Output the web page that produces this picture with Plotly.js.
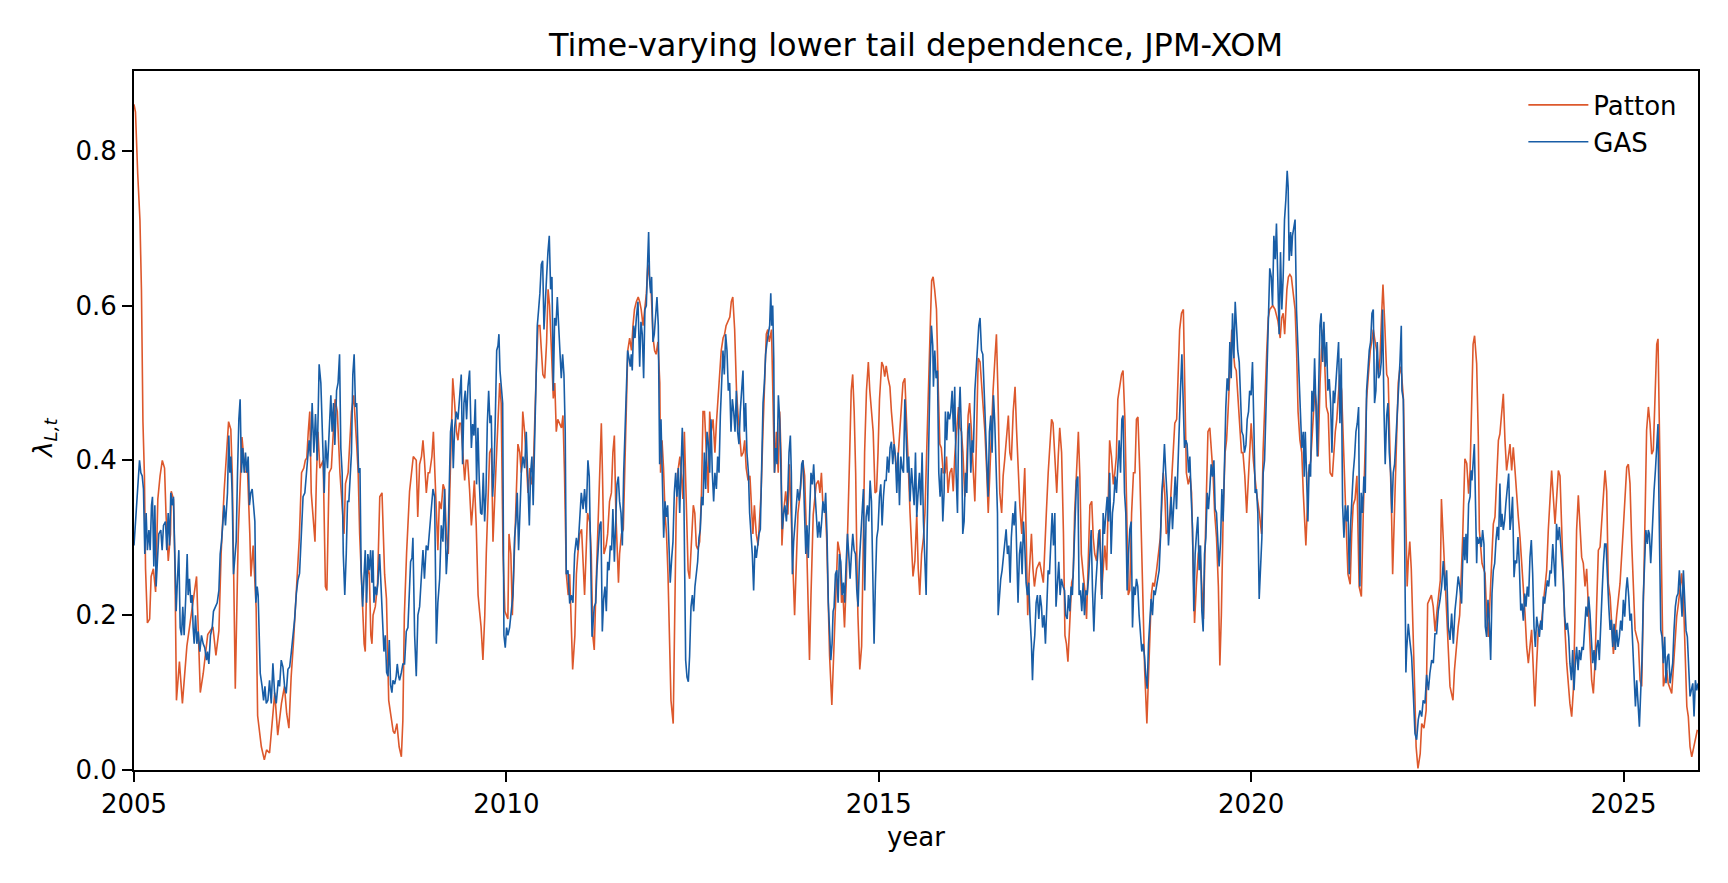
<!DOCTYPE html>
<html>
<head>
<meta charset="utf-8">
<script src="https://cdn.plot.ly/plotly-3.0.1.min.js"></script>
<style>
  html, body { margin: 0; padding: 0; background: #fff; }
  #graf { width: 1728px; height: 883px; }
</style>
</head>
<body>
<div id="graf"></div>
<script>
// values, [decimal year, lambda_L]
let pattonPts = [
[2005.00,0.86],[2005.02,0.85],[2005.05,0.77],[2005.08,0.71],[2005.10,0.62],[2005.12,0.45],[2005.14,0.38],[2005.155,0.26],[2005.18,0.19],[2005.21,0.195],[2005.23,0.25],[2005.26,0.26],[2005.29,0.23],[2005.32,0.35],[2005.35,0.38],[2005.38,0.40],[2005.41,0.39],[2005.43,0.33],[2005.46,0.27],[2005.49,0.305],[2005.50,0.36],[2005.53,0.35],[2005.55,0.26],[2005.57,0.09],[2005.61,0.14],[2005.65,0.086],[2005.71,0.16],[2005.77,0.20],[2005.84,0.25],[2005.89,0.10],[2005.93,0.125],[2005.99,0.175],[2006.06,0.185],[2006.10,0.148],[2006.14,0.18],[2006.17,0.28],[2006.21,0.36],[2006.27,0.45],[2006.30,0.44],[2006.32,0.38],[2006.345,0.23],[2006.36,0.105],[2006.40,0.305],[2006.435,0.405],[2006.45,0.43],[2006.49,0.385],[2006.525,0.385],[2006.555,0.305],[2006.57,0.25],[2006.60,0.29],[2006.64,0.21],[2006.66,0.07],[2006.71,0.03],[2006.75,0.013],[2006.78,0.026],[2006.82,0.022],[2006.86,0.069],[2006.89,0.10],[2006.93,0.045],[2006.98,0.086],[2007.02,0.108],[2007.05,0.073],[2007.08,0.054],[2007.11,0.12],[2007.14,0.163],[2007.18,0.23],[2007.22,0.30],[2007.25,0.384],[2007.28,0.39],[2007.30,0.40],[2007.32,0.403],[2007.34,0.437],[2007.36,0.463],[2007.38,0.358],[2007.40,0.33],[2007.43,0.295],[2007.45,0.38],[2007.47,0.437],[2007.495,0.39],[2007.52,0.395],[2007.54,0.40],[2007.57,0.237],[2007.59,0.232],[2007.62,0.384],[2007.65,0.39],[2007.70,0.479],[2007.73,0.463],[2007.765,0.384],[2007.795,0.332],[2007.82,0.305],[2007.84,0.37],[2007.875,0.384],[2007.92,0.463],[2007.95,0.484],[2007.99,0.42],[2008.01,0.384],[2008.03,0.305],[2008.05,0.253],[2008.09,0.163],[2008.105,0.153],[2008.12,0.226],[2008.14,0.263],[2008.16,0.253],[2008.18,0.174],[2008.195,0.163],[2008.21,0.20],[2008.24,0.211],[2008.27,0.24],[2008.285,0.30],[2008.30,0.353],[2008.33,0.358],[2008.35,0.305],[2008.365,0.253],[2008.39,0.221],[2008.41,0.153],[2008.42,0.09],[2008.45,0.07],[2008.48,0.05],[2008.50,0.047],[2008.53,0.06],[2008.56,0.03],[2008.59,0.017],[2008.61,0.064],[2008.63,0.20],[2008.66,0.28],[2008.70,0.36],[2008.75,0.405],[2008.79,0.40],[2008.81,0.327],[2008.835,0.395],[2008.86,0.405],[2008.88,0.426],[2008.90,0.40],[2008.925,0.358],[2008.95,0.384],[2008.97,0.384],[2009.00,0.405],[2009.02,0.437],[2009.04,0.384],[2009.06,0.337],[2009.08,0.284],[2009.10,0.347],[2009.125,0.337],[2009.15,0.369],[2009.17,0.363],[2009.195,0.305],[2009.22,0.279],[2009.24,0.358],[2009.26,0.437],[2009.28,0.506],[2009.305,0.474],[2009.33,0.437],[2009.35,0.426],[2009.37,0.448],[2009.39,0.448],[2009.42,0.405],[2009.44,0.374],[2009.46,0.40],[2009.48,0.40],[2009.505,0.363],[2009.53,0.316],[2009.55,0.342],[2009.57,0.374],[2009.595,0.316],[2009.62,0.226],[2009.64,0.205],[2009.66,0.185],[2009.685,0.142],[2009.71,0.20],[2009.73,0.279],[2009.75,0.353],[2009.775,0.41],[2009.80,0.416],[2009.82,0.295],[2009.86,0.39],[2009.885,0.448],[2009.91,0.50],[2009.93,0.474],[2009.955,0.28],[2009.98,0.205],[2010.02,0.195],[2010.035,0.305],[2010.06,0.279],[2010.08,0.20],[2010.10,0.26],[2010.13,0.332],[2010.155,0.421],[2010.18,0.41],[2010.20,0.384],[2010.22,0.463],[2010.245,0.437],[2010.27,0.395],[2010.29,0.358],[2010.315,0.39],[2010.335,0.369],[2010.36,0.384],[2010.38,0.458],[2010.40,0.511],[2010.425,0.574],[2010.45,0.574],[2010.47,0.542],[2010.49,0.511],[2010.515,0.506],[2010.54,0.553],[2010.56,0.621],[2010.58,0.60],[2010.605,0.542],[2010.63,0.48],[2010.65,0.50],[2010.67,0.437],[2010.69,0.453],[2010.715,0.448],[2010.74,0.442],[2010.76,0.458],[2010.78,0.384],[2010.805,0.253],[2010.83,0.226],[2010.85,0.253],[2010.87,0.174],[2010.89,0.13],[2010.92,0.174],[2010.94,0.253],[2010.96,0.279],[2010.985,0.305],[2011.01,0.311],[2011.03,0.269],[2011.05,0.226],[2011.07,0.279],[2011.09,0.332],[2011.12,0.32],[2011.14,0.279],[2011.16,0.174],[2011.18,0.155],[2011.20,0.226],[2011.22,0.279],[2011.24,0.332],[2011.26,0.384],[2011.275,0.448],[2011.29,0.384],[2011.31,0.279],[2011.34,0.29],[2011.36,0.305],[2011.385,0.347],[2011.41,0.358],[2011.43,0.41],[2011.45,0.432],[2011.47,0.332],[2011.49,0.263],[2011.505,0.242],[2011.52,0.279],[2011.545,0.305],[2011.57,0.311],[2011.59,0.384],[2011.61,0.49],[2011.63,0.542],[2011.655,0.558],[2011.68,0.542],[2011.70,0.574],[2011.72,0.595],[2011.745,0.605],[2011.77,0.611],[2011.79,0.605],[2011.81,0.595],[2011.835,0.574],[2011.857,0.595],[2011.88,0.616],[2011.90,0.653],[2011.92,0.637],[2011.945,0.616],[2011.97,0.558],[2011.99,0.542],[2012.01,0.537],[2012.035,0.553],[2012.06,0.50],[2012.07,0.384],[2012.09,0.426],[2012.11,0.39],[2012.13,0.332],[2012.15,0.305],[2012.17,0.253],[2012.19,0.147],[2012.21,0.09],[2012.24,0.06],[2012.26,0.226],[2012.28,0.332],[2012.30,0.384],[2012.33,0.405],[2012.35,0.38],[2012.37,0.35],[2012.39,0.437],[2012.42,0.33],[2012.44,0.258],[2012.46,0.247],[2012.48,0.28],[2012.51,0.342],[2012.53,0.332],[2012.55,0.29],[2012.57,0.285],[2012.595,0.295],[2012.62,0.358],[2012.64,0.463],[2012.66,0.463],[2012.685,0.40],[2012.71,0.358],[2012.73,0.463],[2012.75,0.437],[2012.775,0.453],[2012.80,0.41],[2012.82,0.448],[2012.84,0.479],[2012.86,0.50],[2012.885,0.542],[2012.91,0.558],[2012.93,0.563],[2012.95,0.574],[2012.975,0.579],[2013.00,0.585],[2013.02,0.605],[2013.04,0.611],[2013.065,0.569],[2013.09,0.49],[2013.11,0.46],[2013.13,0.437],[2013.155,0.405],[2013.18,0.41],[2013.20,0.426],[2013.22,0.39],[2013.245,0.374],[2013.27,0.38],[2013.29,0.332],[2013.31,0.305],[2013.33,0.342],[2013.355,0.305],[2013.38,0.29],[2013.40,0.33],[2013.42,0.358],[2013.445,0.437],[2013.47,0.516],[2013.49,0.563],[2013.51,0.569],[2013.53,0.553],[2013.56,0.569],[2013.58,0.49],[2013.60,0.384],[2013.625,0.437],[2013.65,0.384],[2013.67,0.463],[2013.69,0.40],[2013.70,0.29],[2013.72,0.33],[2013.75,0.36],[2013.78,0.33],[2013.80,0.395],[2013.835,0.30],[2013.87,0.20],[2013.915,0.332],[2013.94,0.353],[2013.98,0.40],[2014.005,0.38],[2014.03,0.30],[2014.05,0.20],[2014.07,0.142],[2014.09,0.226],[2014.12,0.33],[2014.16,0.369],[2014.19,0.374],[2014.21,0.358],[2014.23,0.384],[2014.25,0.342],[2014.28,0.342],[2014.30,0.30],[2014.32,0.226],[2014.34,0.147],[2014.37,0.084],[2014.40,0.174],[2014.43,0.263],[2014.45,0.295],[2014.48,0.279],[2014.50,0.216],[2014.52,0.226],[2014.54,0.184],[2014.565,0.247],[2014.59,0.358],[2014.61,0.41],[2014.63,0.49],[2014.65,0.511],[2014.67,0.463],[2014.69,0.384],[2014.705,0.279],[2014.72,0.20],[2014.745,0.13],[2014.77,0.16],[2014.79,0.279],[2014.81,0.41],[2014.835,0.49],[2014.86,0.527],[2014.88,0.49],[2014.90,0.463],[2014.925,0.437],[2014.95,0.358],[2014.97,0.36],[2014.99,0.41],[2015.01,0.479],[2015.04,0.527],[2015.06,0.522],[2015.08,0.508],[2015.10,0.522],[2015.125,0.506],[2015.15,0.495],[2015.17,0.463],[2015.19,0.437],[2015.215,0.405],[2015.24,0.384],[2015.26,0.405],[2015.28,0.437],[2015.30,0.458],[2015.325,0.50],[2015.35,0.506],[2015.37,0.463],[2015.39,0.41],[2015.42,0.332],[2015.44,0.279],[2015.46,0.25],[2015.485,0.27],[2015.51,0.33],[2015.53,0.26],[2015.55,0.226],[2015.575,0.279],[2015.60,0.30],[2015.62,0.332],[2015.64,0.41],[2015.665,0.49],[2015.69,0.569],[2015.71,0.632],[2015.73,0.637],[2015.75,0.621],[2015.775,0.595],[2015.80,0.49],[2015.82,0.421],[2015.84,0.416],[2015.865,0.384],[2015.89,0.384],[2015.91,0.405],[2015.93,0.358],[2015.955,0.384],[2015.98,0.39],[2016.00,0.36],[2016.02,0.405],[2016.045,0.442],[2016.07,0.469],[2016.09,0.442],[2016.11,0.437],[2016.13,0.41],[2016.155,0.353],[2016.18,0.39],[2016.20,0.458],[2016.22,0.474],[2016.245,0.437],[2016.27,0.384],[2016.29,0.347],[2016.31,0.42],[2016.335,0.532],[2016.36,0.527],[2016.38,0.50],[2016.40,0.463],[2016.425,0.437],[2016.45,0.384],[2016.47,0.332],[2016.49,0.38],[2016.51,0.437],[2016.535,0.49],[2016.56,0.532],[2016.58,0.563],[2016.60,0.49],[2016.625,0.358],[2016.65,0.332],[2016.67,0.38],[2016.69,0.40],[2016.715,0.426],[2016.74,0.458],[2016.76,0.41],[2016.78,0.40],[2016.805,0.463],[2016.83,0.495],[2016.85,0.44],[2016.87,0.384],[2016.895,0.34],[2016.92,0.305],[2016.94,0.35],[2016.96,0.39],[2016.98,0.30],[2017.00,0.20],[2017.02,0.253],[2017.05,0.305],[2017.07,0.26],[2017.09,0.237],[2017.12,0.26],[2017.16,0.269],[2017.21,0.242],[2017.23,0.279],[2017.25,0.332],[2017.275,0.384],[2017.30,0.416],[2017.32,0.453],[2017.34,0.448],[2017.365,0.405],[2017.39,0.358],[2017.41,0.405],[2017.43,0.442],[2017.455,0.41],[2017.48,0.305],[2017.50,0.174],[2017.52,0.163],[2017.54,0.14],[2017.565,0.184],[2017.59,0.242],[2017.61,0.25],[2017.63,0.332],[2017.655,0.384],[2017.68,0.437],[2017.70,0.38],[2017.72,0.279],[2017.745,0.253],[2017.77,0.23],[2017.79,0.195],[2017.81,0.27],[2017.835,0.342],[2017.86,0.347],[2017.88,0.30],[2017.90,0.279],[2017.925,0.27],[2017.95,0.305],[2017.97,0.311],[2017.99,0.226],[2018.01,0.25],[2018.035,0.29],[2018.06,0.258],[2018.08,0.358],[2018.10,0.426],[2018.125,0.405],[2018.15,0.369],[2018.17,0.384],[2018.19,0.405],[2018.21,0.479],[2018.24,0.50],[2018.26,0.511],[2018.28,0.516],[2018.305,0.453],[2018.33,0.332],[2018.35,0.226],[2018.37,0.232],[2018.395,0.332],[2018.42,0.384],[2018.44,0.384],[2018.46,0.453],[2018.48,0.456],[2018.505,0.384],[2018.53,0.28],[2018.55,0.174],[2018.57,0.13],[2018.60,0.06],[2018.62,0.11],[2018.64,0.174],[2018.66,0.226],[2018.68,0.242],[2018.70,0.237],[2018.73,0.258],[2018.75,0.279],[2018.78,0.30],[2018.80,0.342],[2018.82,0.384],[2018.84,0.358],[2018.86,0.305],[2018.885,0.31],[2018.91,0.332],[2018.93,0.37],[2018.95,0.41],[2018.975,0.448],[2019.00,0.453],[2019.02,0.511],[2019.04,0.569],[2019.065,0.59],[2019.09,0.595],[2019.11,0.49],[2019.13,0.384],[2019.155,0.369],[2019.18,0.38],[2019.20,0.358],[2019.22,0.29],[2019.24,0.19],[2019.265,0.24],[2019.29,0.279],[2019.31,0.29],[2019.33,0.253],[2019.36,0.195],[2019.38,0.28],[2019.40,0.358],[2019.42,0.437],[2019.445,0.442],[2019.47,0.405],[2019.49,0.38],[2019.51,0.332],[2019.535,0.30],[2019.56,0.237],[2019.58,0.135],[2019.60,0.20],[2019.625,0.332],[2019.65,0.41],[2019.67,0.426],[2019.69,0.463],[2019.715,0.527],[2019.74,0.569],[2019.76,0.542],[2019.78,0.521],[2019.80,0.516],[2019.825,0.474],[2019.85,0.437],[2019.87,0.41],[2019.89,0.41],[2019.915,0.38],[2019.94,0.332],[2019.97,0.39],[2020.00,0.448],[2020.03,0.40],[2020.07,0.36],[2020.11,0.332],[2020.14,0.305],[2020.16,0.41],[2020.18,0.474],[2020.21,0.542],[2020.23,0.584],[2020.25,0.595],[2020.29,0.60],[2020.32,0.595],[2020.36,0.58],[2020.39,0.558],[2020.41,0.584],[2020.43,0.59],[2020.45,0.563],[2020.48,0.621],[2020.50,0.637],[2020.52,0.64],[2020.54,0.637],[2020.56,0.616],[2020.59,0.595],[2020.61,0.542],[2020.63,0.463],[2020.655,0.426],[2020.68,0.41],[2020.70,0.358],[2020.72,0.321],[2020.735,0.29],[2020.755,0.34],[2020.77,0.384],[2020.80,0.40],[2020.83,0.448],[2020.855,0.49],[2020.88,0.47],[2020.90,0.405],[2020.925,0.50],[2020.945,0.542],[2020.97,0.569],[2020.99,0.516],[2021.01,0.469],[2021.035,0.46],[2021.06,0.384],[2021.09,0.379],[2021.11,0.41],[2021.13,0.437],[2021.15,0.453],[2021.17,0.49],[2021.19,0.511],[2021.215,0.49],[2021.24,0.41],[2021.26,0.358],[2021.28,0.305],[2021.30,0.253],[2021.33,0.24],[2021.35,0.305],[2021.37,0.342],[2021.395,0.35],[2021.42,0.38],[2021.45,0.237],[2021.48,0.224],[2021.505,0.33],[2021.53,0.41],[2021.55,0.479],[2021.575,0.511],[2021.60,0.542],[2021.62,0.553],[2021.64,0.569],[2021.665,0.553],[2021.685,0.542],[2021.71,0.511],[2021.73,0.532],[2021.75,0.584],[2021.77,0.627],[2021.795,0.574],[2021.82,0.511],[2021.84,0.506],[2021.86,0.437],[2021.885,0.332],[2021.90,0.253],[2021.915,0.30],[2021.935,0.384],[2021.955,0.437],[2021.975,0.50],[2022.00,0.521],[2022.02,0.511],[2022.045,0.479],[2022.065,0.384],[2022.08,0.279],[2022.095,0.237],[2022.11,0.27],[2022.13,0.295],[2022.15,0.26],[2022.17,0.20],[2022.19,0.147],[2022.20,0.09],[2022.215,0.03],[2022.24,0.002],[2022.27,0.021],[2022.29,0.06],[2022.32,0.054],[2022.35,0.077],[2022.37,0.215],[2022.42,0.226],[2022.445,0.211],[2022.47,0.179],[2022.50,0.21],[2022.54,0.245],[2022.555,0.35],[2022.58,0.30],[2022.62,0.20],[2022.67,0.108],[2022.71,0.09],[2022.73,0.129],[2022.78,0.185],[2022.80,0.20],[2022.84,0.30],[2022.87,0.402],[2022.895,0.396],[2022.92,0.357],[2022.94,0.387],[2022.96,0.473],[2022.98,0.55],[2023.00,0.561],[2023.028,0.525],[2023.05,0.43],[2023.064,0.31],[2023.082,0.288],[2023.10,0.267],[2023.14,0.254],[2023.162,0.202],[2023.185,0.172],[2023.23,0.267],[2023.252,0.318],[2023.274,0.327],[2023.30,0.387],[2023.32,0.426],[2023.34,0.434],[2023.364,0.46],[2023.386,0.486],[2023.408,0.426],[2023.43,0.387],[2023.453,0.404],[2023.476,0.421],[2023.498,0.387],[2023.52,0.417],[2023.543,0.387],[2023.565,0.353],[2023.587,0.327],[2023.61,0.301],[2023.632,0.271],[2023.655,0.245],[2023.677,0.202],[2023.70,0.159],[2023.722,0.138],[2023.766,0.181],[2023.81,0.082],[2023.834,0.138],[2023.856,0.181],[2023.90,0.193],[2023.923,0.215],[2023.968,0.258],[2023.99,0.31],[2024.013,0.353],[2024.035,0.387],[2024.08,0.318],[2024.102,0.353],[2024.125,0.387],[2024.147,0.38],[2024.19,0.245],[2024.214,0.181],[2024.237,0.138],[2024.26,0.103],[2024.28,0.086],[2024.304,0.069],[2024.326,0.103],[2024.35,0.202],[2024.37,0.31],[2024.393,0.355],[2024.416,0.31],[2024.438,0.275],[2024.46,0.267],[2024.483,0.237],[2024.505,0.26],[2024.528,0.202],[2024.55,0.159],[2024.572,0.116],[2024.595,0.099],[2024.617,0.138],[2024.64,0.215],[2024.662,0.284],[2024.685,0.288],[2024.73,0.353],[2024.752,0.387],[2024.774,0.36],[2024.796,0.241],[2024.82,0.224],[2024.84,0.181],[2024.864,0.15],[2024.908,0.20],[2024.953,0.241],[2024.998,0.314],[2025.043,0.391],[2025.065,0.395],[2025.087,0.37],[2025.11,0.293],[2025.132,0.224],[2025.155,0.181],[2025.20,0.163],[2025.222,0.116],[2025.244,0.108],[2025.266,0.202],[2025.29,0.331],[2025.31,0.439],[2025.334,0.469],[2025.356,0.447],[2025.378,0.408],[2025.40,0.413],[2025.423,0.482],[2025.446,0.55],[2025.463,0.557],[2025.48,0.439],[2025.50,0.331],[2025.517,0.181],[2025.535,0.108],[2025.58,0.129],[2025.60,0.112],[2025.647,0.099],[2025.67,0.138],[2025.692,0.172],[2025.714,0.198],[2025.737,0.215],[2025.78,0.254],[2025.804,0.224],[2025.826,0.138],[2025.85,0.082],[2025.87,0.069],[2025.893,0.03],[2025.916,0.017],[2025.938,0.026],[2025.96,0.039],[2025.992,0.052]
];

let gasPts = [
[2005.000,0.29],[2005.033,0.342],[2005.056,0.384],[2005.074,0.40],[2005.092,0.384],[2005.11,0.38],[2005.127,0.363],[2005.145,0.279],[2005.163,0.332],[2005.18,0.284],[2005.20,0.31],[2005.217,0.284],[2005.235,0.342],[2005.248,0.353],[2005.266,0.263],[2005.28,0.342],[2005.297,0.237],[2005.315,0.279],[2005.333,0.305],[2005.36,0.31],[2005.378,0.284],[2005.396,0.316],[2005.423,0.321],[2005.44,0.284],[2005.459,0.332],[2005.477,0.29],[2005.494,0.358],[2005.512,0.342],[2005.53,0.353],[2005.548,0.279],[2005.566,0.205],[2005.584,0.247],[2005.602,0.284],[2005.62,0.184],[2005.638,0.174],[2005.655,0.211],[2005.673,0.174],[2005.696,0.226],[2005.714,0.279],[2005.727,0.226],[2005.745,0.247],[2005.763,0.216],[2005.78,0.226],[2005.794,0.184],[2005.808,0.163],[2005.826,0.20],[2005.844,0.163],[2005.862,0.179],[2005.884,0.153],[2005.906,0.174],[2005.929,0.163],[2005.95,0.158],[2005.974,0.142],[2005.987,0.153],[2006.005,0.137],[2006.027,0.174],[2006.05,0.184],[2006.067,0.205],[2006.094,0.211],[2006.117,0.216],[2006.14,0.232],[2006.157,0.279],[2006.175,0.295],[2006.197,0.321],[2006.21,0.342],[2006.228,0.316],[2006.255,0.358],[2006.273,0.432],[2006.287,0.384],[2006.30,0.405],[2006.318,0.358],[2006.336,0.253],[2006.354,0.279],[2006.372,0.295],[2006.39,0.384],[2006.408,0.453],[2006.425,0.479],[2006.443,0.384],[2006.46,0.416],[2006.48,0.384],[2006.497,0.41],[2006.515,0.384],[2006.533,0.405],[2006.55,0.342],[2006.568,0.358],[2006.587,0.363],[2006.605,0.342],[2006.623,0.321],[2006.636,0.216],[2006.654,0.237],[2006.667,0.226],[2006.695,0.125],[2006.72,0.108],[2006.74,0.09],[2006.758,0.108],[2006.776,0.086],[2006.798,0.09],[2006.82,0.116],[2006.843,0.086],[2006.865,0.138],[2006.888,0.099],[2006.91,0.086],[2006.937,0.116],[2006.955,0.108],[2006.977,0.142],[2007.00,0.133],[2007.022,0.108],[2007.044,0.099],[2007.067,0.13],[2007.09,0.133],[2007.11,0.15],[2007.134,0.172],[2007.156,0.194],[2007.18,0.228],[2007.20,0.245],[2007.223,0.254],[2007.25,0.305],[2007.27,0.353],[2007.294,0.358],[2007.316,0.384],[2007.34,0.41],[2007.352,0.426],[2007.37,0.405],[2007.392,0.474],[2007.415,0.41],[2007.437,0.46],[2007.46,0.40],[2007.486,0.524],[2007.509,0.50],[2007.518,0.458],[2007.536,0.416],[2007.554,0.358],[2007.572,0.426],[2007.598,0.39],[2007.616,0.437],[2007.643,0.484],[2007.66,0.437],[2007.679,0.474],[2007.697,0.42],[2007.72,0.49],[2007.74,0.50],[2007.76,0.537],[2007.777,0.416],[2007.795,0.384],[2007.81,0.279],[2007.83,0.226],[2007.85,0.279],[2007.867,0.347],[2007.885,0.347],[2007.903,0.384],[2007.92,0.41],[2007.938,0.511],[2007.956,0.537],[2007.974,0.469],[2007.99,0.474],[2008.016,0.384],[2008.034,0.39],[2008.05,0.258],[2008.07,0.211],[2008.087,0.247],[2008.105,0.284],[2008.123,0.216],[2008.14,0.279],[2008.16,0.258],[2008.177,0.284],[2008.195,0.242],[2008.208,0.284],[2008.222,0.216],[2008.24,0.237],[2008.257,0.226],[2008.275,0.242],[2008.298,0.279],[2008.32,0.226],[2008.338,0.174],[2008.356,0.153],[2008.374,0.174],[2008.392,0.126],[2008.41,0.121],[2008.428,0.168],[2008.445,0.11],[2008.463,0.10],[2008.477,0.116],[2008.50,0.111],[2008.52,0.121],[2008.535,0.137],[2008.553,0.121],[2008.566,0.116],[2008.59,0.126],[2008.61,0.137],[2008.633,0.137],[2008.656,0.179],[2008.678,0.184],[2008.70,0.232],[2008.714,0.269],[2008.732,0.274],[2008.745,0.30],[2008.768,0.174],[2008.79,0.121],[2008.812,0.20],[2008.835,0.211],[2008.857,0.247],[2008.88,0.284],[2008.90,0.247],[2008.924,0.29],[2008.947,0.284],[2008.97,0.311],[2008.99,0.332],[2009.014,0.363],[2009.036,0.353],[2009.06,0.163],[2009.08,0.216],[2009.104,0.247],[2009.126,0.316],[2009.148,0.295],[2009.17,0.363],[2009.193,0.253],[2009.215,0.29],[2009.238,0.384],[2009.25,0.437],[2009.27,0.453],[2009.287,0.39],[2009.305,0.442],[2009.327,0.463],[2009.35,0.453],[2009.372,0.49],[2009.394,0.511],[2009.412,0.395],[2009.43,0.474],[2009.448,0.49],[2009.466,0.453],[2009.484,0.495],[2009.506,0.516],[2009.53,0.416],[2009.547,0.447],[2009.565,0.432],[2009.583,0.479],[2009.60,0.369],[2009.618,0.442],[2009.636,0.374],[2009.654,0.332],[2009.672,0.33],[2009.69,0.384],[2009.708,0.321],[2009.726,0.358],[2009.744,0.448],[2009.762,0.49],[2009.78,0.448],[2009.797,0.458],[2009.815,0.353],[2009.833,0.384],[2009.85,0.448],[2009.87,0.542],[2009.887,0.548],[2009.90,0.563],[2009.914,0.516],[2009.932,0.49],[2009.95,0.474],[2009.967,0.174],[2009.985,0.158],[2010.003,0.184],[2010.02,0.174],[2010.043,0.184],[2010.066,0.205],[2010.088,0.226],[2010.11,0.30],[2010.128,0.321],[2010.146,0.358],[2010.164,0.284],[2010.182,0.332],[2010.20,0.384],[2010.222,0.405],[2010.245,0.39],[2010.267,0.437],[2010.29,0.374],[2010.308,0.316],[2010.325,0.384],[2010.343,0.405],[2010.36,0.342],[2010.38,0.437],[2010.397,0.506],[2010.415,0.574],[2010.433,0.595],[2010.45,0.616],[2010.469,0.653],[2010.487,0.658],[2010.505,0.569],[2010.522,0.595],[2010.54,0.637],[2010.558,0.669],[2010.576,0.69],[2010.594,0.621],[2010.612,0.637],[2010.63,0.49],[2010.648,0.584],[2010.666,0.574],[2010.684,0.611],[2010.702,0.574],[2010.72,0.542],[2010.737,0.506],[2010.755,0.537],[2010.773,0.511],[2010.79,0.437],[2010.804,0.253],[2010.827,0.258],[2010.85,0.215],[2010.872,0.226],[2010.894,0.216],[2010.916,0.279],[2010.94,0.30],[2010.96,0.284],[2010.984,0.332],[2011.006,0.358],[2011.03,0.337],[2011.05,0.363],[2011.073,0.332],[2011.095,0.40],[2011.113,0.379],[2011.13,0.30],[2011.15,0.172],[2011.18,0.211],[2011.20,0.216],[2011.216,0.258],[2011.234,0.29],[2011.252,0.316],[2011.27,0.321],[2011.288,0.179],[2011.306,0.221],[2011.324,0.237],[2011.342,0.205],[2011.36,0.269],[2011.378,0.258],[2011.395,0.29],[2011.413,0.284],[2011.43,0.337],[2011.45,0.269],[2011.467,0.321],[2011.485,0.369],[2011.503,0.379],[2011.52,0.347],[2011.539,0.332],[2011.557,0.29],[2011.575,0.384],[2011.592,0.437],[2011.61,0.49],[2011.628,0.542],[2011.646,0.532],[2011.664,0.521],[2011.677,0.537],[2011.69,0.516],[2011.709,0.574],[2011.727,0.558],[2011.745,0.584],[2011.767,0.605],[2011.79,0.521],[2011.807,0.579],[2011.825,0.563],[2011.843,0.506],[2011.86,0.595],[2011.879,0.60],[2011.897,0.658],[2011.91,0.695],[2011.924,0.632],[2011.937,0.616],[2011.95,0.637],[2011.968,0.553],[2011.986,0.563],[2012.004,0.595],[2012.022,0.611],[2012.04,0.574],[2012.058,0.395],[2012.076,0.453],[2012.094,0.358],[2012.112,0.30],[2012.13,0.347],[2012.148,0.327],[2012.165,0.342],[2012.183,0.30],[2012.20,0.242],[2012.22,0.274],[2012.237,0.295],[2012.255,0.358],[2012.273,0.384],[2012.29,0.353],[2012.309,0.39],[2012.327,0.332],[2012.344,0.395],[2012.362,0.442],[2012.38,0.384],[2012.394,0.279],[2012.407,0.142],[2012.425,0.12],[2012.443,0.114],[2012.46,0.147],[2012.479,0.211],[2012.497,0.226],[2012.515,0.205],[2012.532,0.237],[2012.55,0.253],[2012.568,0.269],[2012.586,0.30],[2012.604,0.311],[2012.622,0.353],[2012.64,0.342],[2012.658,0.41],[2012.676,0.363],[2012.694,0.437],[2012.712,0.421],[2012.73,0.384],[2012.747,0.453],[2012.765,0.384],[2012.783,0.347],[2012.80,0.384],[2012.82,0.363],[2012.837,0.405],[2012.855,0.384],[2012.873,0.458],[2012.89,0.50],[2012.908,0.542],[2012.926,0.511],[2012.944,0.563],[2012.962,0.542],[2012.98,0.49],[2012.998,0.50],[2013.016,0.437],[2013.034,0.479],[2013.052,0.463],[2013.07,0.437],[2013.088,0.49],[2013.105,0.437],[2013.123,0.421],[2013.14,0.463],[2013.16,0.495],[2013.177,0.516],[2013.195,0.437],[2013.213,0.474],[2013.23,0.41],[2013.25,0.384],[2013.266,0.332],[2013.284,0.311],[2013.302,0.279],[2013.32,0.232],[2013.338,0.29],[2013.356,0.274],[2013.374,0.295],[2013.392,0.305],[2013.41,0.311],[2013.428,0.384],[2013.446,0.474],[2013.464,0.50],[2013.481,0.537],[2013.50,0.553],[2013.517,0.563],[2013.535,0.574],[2013.55,0.616],[2013.562,0.574],[2013.576,0.60],[2013.59,0.532],[2013.60,0.384],[2013.616,0.416],[2013.634,0.395],[2013.652,0.484],[2013.67,0.453],[2013.688,0.379],[2013.705,0.311],[2013.723,0.332],[2013.74,0.342],[2013.76,0.321],[2013.777,0.353],[2013.795,0.41],[2013.813,0.432],[2013.826,0.384],[2013.84,0.253],[2013.857,0.295],[2013.875,0.316],[2013.893,0.342],[2013.91,0.363],[2013.93,0.348],[2013.947,0.363],[2013.965,0.395],[2013.983,0.40],[2014.00,0.342],[2014.02,0.279],[2014.036,0.316],[2014.054,0.274],[2014.072,0.332],[2014.09,0.384],[2014.108,0.369],[2014.126,0.395],[2014.144,0.358],[2014.162,0.327],[2014.18,0.30],[2014.198,0.321],[2014.216,0.30],[2014.233,0.321],[2014.25,0.347],[2014.27,0.332],[2014.287,0.358],[2014.305,0.305],[2014.323,0.216],[2014.356,0.142],[2014.373,0.163],[2014.387,0.205],[2014.40,0.21],[2014.418,0.253],[2014.436,0.258],[2014.454,0.216],[2014.472,0.279],[2014.49,0.269],[2014.508,0.226],[2014.526,0.242],[2014.543,0.216],[2014.56,0.263],[2014.58,0.305],[2014.597,0.279],[2014.615,0.247],[2014.633,0.279],[2014.651,0.305],[2014.669,0.284],[2014.687,0.279],[2014.705,0.232],[2014.723,0.211],[2014.74,0.269],[2014.758,0.295],[2014.776,0.332],[2014.794,0.363],[2014.812,0.232],[2014.83,0.327],[2014.848,0.342],[2014.866,0.321],[2014.884,0.374],[2014.902,0.347],[2014.92,0.242],[2014.937,0.163],[2014.955,0.242],[2014.973,0.30],[2014.99,0.311],[2015.009,0.353],[2015.027,0.369],[2015.045,0.316],[2015.063,0.353],[2015.08,0.374],[2015.099,0.374],[2015.116,0.405],[2015.134,0.384],[2015.152,0.416],[2015.17,0.424],[2015.188,0.395],[2015.206,0.421],[2015.224,0.405],[2015.242,0.358],[2015.26,0.41],[2015.278,0.342],[2015.296,0.405],[2015.314,0.39],[2015.332,0.384],[2015.35,0.479],[2015.367,0.421],[2015.385,0.384],[2015.403,0.405],[2015.42,0.347],[2015.44,0.39],[2015.457,0.369],[2015.475,0.342],[2015.493,0.41],[2015.51,0.327],[2015.528,0.358],[2015.546,0.384],[2015.564,0.342],[2015.582,0.41],[2015.60,0.321],[2015.618,0.279],[2015.636,0.226],[2015.654,0.332],[2015.672,0.437],[2015.69,0.521],[2015.707,0.574],[2015.725,0.548],[2015.734,0.495],[2015.752,0.542],[2015.77,0.506],[2015.788,0.516],[2015.806,0.384],[2015.824,0.353],[2015.842,0.39],[2015.86,0.321],[2015.877,0.358],[2015.895,0.463],[2015.913,0.426],[2015.93,0.463],[2015.95,0.453],[2015.967,0.463],[2015.985,0.49],[2016.003,0.437],[2016.02,0.495],[2016.038,0.384],[2016.057,0.332],[2016.074,0.453],[2016.092,0.495],[2016.11,0.437],[2016.128,0.305],[2016.146,0.321],[2016.164,0.384],[2016.182,0.358],[2016.20,0.437],[2016.218,0.448],[2016.236,0.384],[2016.253,0.426],[2016.27,0.41],[2016.29,0.49],[2016.307,0.516],[2016.325,0.553],[2016.343,0.574],[2016.36,0.584],[2016.379,0.542],[2016.397,0.537],[2016.415,0.49],[2016.433,0.453],[2016.45,0.384],[2016.468,0.353],[2016.486,0.437],[2016.504,0.458],[2016.522,0.41],[2016.54,0.484],[2016.558,0.448],[2016.576,0.384],[2016.594,0.332],[2016.603,0.20],[2016.62,0.226],[2016.638,0.247],[2016.656,0.258],[2016.674,0.279],[2016.692,0.29],[2016.71,0.311],[2016.728,0.279],[2016.746,0.29],[2016.764,0.242],[2016.78,0.30],[2016.80,0.332],[2016.817,0.316],[2016.835,0.347],[2016.853,0.253],[2016.87,0.216],[2016.889,0.279],[2016.907,0.295],[2016.925,0.253],[2016.943,0.321],[2016.96,0.29],[2016.978,0.242],[2016.996,0.226],[2017.014,0.242],[2017.032,0.195],[2017.05,0.163],[2017.064,0.116],[2017.077,0.153],[2017.095,0.174],[2017.113,0.216],[2017.13,0.226],[2017.149,0.195],[2017.167,0.226],[2017.185,0.211],[2017.20,0.184],[2017.22,0.20],[2017.238,0.163],[2017.256,0.226],[2017.274,0.258],[2017.292,0.253],[2017.31,0.29],[2017.328,0.332],[2017.346,0.29],[2017.364,0.332],[2017.38,0.211],[2017.40,0.253],[2017.417,0.269],[2017.435,0.226],[2017.453,0.247],[2017.475,0.237],[2017.494,0.232],[2017.51,0.20],[2017.53,0.195],[2017.547,0.226],[2017.565,0.205],[2017.583,0.237],[2017.60,0.226],[2017.62,0.279],[2017.637,0.327],[2017.655,0.374],[2017.673,0.379],[2017.69,0.226],[2017.708,0.232],[2017.726,0.205],[2017.744,0.242],[2017.762,0.20],[2017.78,0.232],[2017.798,0.226],[2017.816,0.247],[2017.834,0.29],[2017.852,0.31],[2017.87,0.232],[2017.888,0.179],[2017.905,0.226],[2017.923,0.253],[2017.94,0.284],[2017.96,0.31],[2017.977,0.279],[2017.995,0.221],[2018.013,0.332],[2018.03,0.305],[2018.05,0.332],[2018.067,0.353],[2018.085,0.321],[2018.10,0.384],[2018.12,0.279],[2018.138,0.332],[2018.156,0.347],[2018.174,0.379],[2018.192,0.358],[2018.21,0.395],[2018.228,0.426],[2018.246,0.384],[2018.264,0.453],[2018.28,0.458],[2018.30,0.358],[2018.317,0.332],[2018.335,0.232],[2018.353,0.279],[2018.371,0.311],[2018.389,0.321],[2018.407,0.184],[2018.425,0.237],[2018.443,0.226],[2018.46,0.247],[2018.478,0.237],[2018.496,0.20],[2018.514,0.174],[2018.532,0.153],[2018.55,0.163],[2018.568,0.147],[2018.586,0.121],[2018.604,0.105],[2018.622,0.163],[2018.64,0.195],[2018.657,0.221],[2018.675,0.20],[2018.693,0.232],[2018.71,0.226],[2018.729,0.237],[2018.747,0.247],[2018.765,0.258],[2018.783,0.30],[2018.80,0.358],[2018.819,0.384],[2018.836,0.421],[2018.854,0.384],[2018.872,0.353],[2018.89,0.29],[2018.908,0.321],[2018.926,0.353],[2018.944,0.311],[2018.962,0.342],[2018.98,0.379],[2018.998,0.337],[2019.016,0.39],[2019.034,0.463],[2019.051,0.49],[2019.07,0.537],[2019.087,0.474],[2019.105,0.416],[2019.123,0.426],[2019.14,0.421],[2019.16,0.384],[2019.177,0.405],[2019.195,0.353],[2019.213,0.311],[2019.23,0.205],[2019.248,0.279],[2019.266,0.305],[2019.284,0.327],[2019.302,0.258],[2019.32,0.29],[2019.338,0.205],[2019.356,0.179],[2019.374,0.279],[2019.392,0.30],[2019.41,0.358],[2019.427,0.337],[2019.445,0.363],[2019.463,0.395],[2019.48,0.379],[2019.50,0.40],[2019.517,0.337],[2019.535,0.332],[2019.553,0.295],[2019.57,0.263],[2019.59,0.295],[2019.607,0.363],[2019.624,0.321],[2019.642,0.421],[2019.66,0.469],[2019.678,0.506],[2019.696,0.49],[2019.714,0.553],[2019.732,0.506],[2019.75,0.59],[2019.768,0.532],[2019.786,0.605],[2019.803,0.563],[2019.82,0.542],[2019.84,0.527],[2019.857,0.479],[2019.875,0.437],[2019.893,0.432],[2019.91,0.41],[2019.93,0.42],[2019.947,0.453],[2019.965,0.463],[2019.98,0.49],[2020.00,0.484],[2020.018,0.527],[2020.036,0.448],[2020.054,0.358],[2020.072,0.363],[2020.09,0.332],[2020.108,0.221],[2020.126,0.258],[2020.144,0.30],[2020.162,0.384],[2020.18,0.40],[2020.197,0.458],[2020.215,0.521],[2020.233,0.574],[2020.25,0.648],[2020.27,0.637],[2020.287,0.60],[2020.305,0.69],[2020.323,0.66],[2020.34,0.706],[2020.358,0.616],[2020.376,0.563],[2020.394,0.669],[2020.412,0.595],[2020.43,0.637],[2020.448,0.711],[2020.466,0.737],[2020.484,0.774],[2020.497,0.753],[2020.51,0.658],[2020.53,0.695],[2020.542,0.664],[2020.555,0.69],[2020.573,0.70],[2020.59,0.711],[2020.609,0.595],[2020.627,0.553],[2020.645,0.506],[2020.668,0.442],[2020.68,0.416],[2020.70,0.437],[2020.713,0.379],[2020.727,0.437],[2020.745,0.384],[2020.762,0.321],[2020.78,0.395],[2020.798,0.379],[2020.816,0.49],[2020.834,0.463],[2020.852,0.532],[2020.87,0.463],[2020.888,0.405],[2020.906,0.49],[2020.924,0.574],[2020.94,0.59],[2020.96,0.527],[2020.977,0.579],[2020.995,0.521],[2021.013,0.553],[2021.03,0.49],[2021.049,0.505],[2021.067,0.474],[2021.085,0.41],[2021.103,0.49],[2021.12,0.474],[2021.138,0.50],[2021.156,0.516],[2021.174,0.553],[2021.192,0.448],[2021.21,0.532],[2021.228,0.342],[2021.246,0.30],[2021.264,0.342],[2021.282,0.321],[2021.30,0.342],[2021.317,0.253],[2021.335,0.316],[2021.353,0.353],[2021.371,0.384],[2021.389,0.405],[2021.407,0.437],[2021.425,0.448],[2021.443,0.469],[2021.46,0.237],[2021.478,0.358],[2021.496,0.332],[2021.514,0.379],[2021.532,0.358],[2021.55,0.49],[2021.568,0.516],[2021.586,0.542],[2021.604,0.553],[2021.622,0.59],[2021.64,0.595],[2021.657,0.474],[2021.675,0.49],[2021.693,0.553],[2021.71,0.506],[2021.73,0.511],[2021.747,0.527],[2021.765,0.595],[2021.783,0.469],[2021.80,0.395],[2021.82,0.458],[2021.837,0.474],[2021.855,0.41],[2021.873,0.384],[2021.89,0.332],[2021.908,0.384],[2021.926,0.395],[2021.944,0.426],[2021.962,0.463],[2021.98,0.49],[2021.998,0.527],[2022.016,0.574],[2022.025,0.49],[2022.043,0.479],[2022.056,0.30],[2022.07,0.15],[2022.078,0.126],[2022.088,0.155],[2022.11,0.189],[2022.13,0.168],[2022.155,0.146],[2022.177,0.099],[2022.20,0.047],[2022.222,0.039],[2022.244,0.065],[2022.267,0.077],[2022.29,0.069],[2022.31,0.09],[2022.334,0.086],[2022.356,0.123],[2022.38,0.103],[2022.40,0.125],[2022.424,0.142],[2022.446,0.138],[2022.468,0.176],[2022.49,0.176],[2022.513,0.206],[2022.535,0.219],[2022.558,0.237],[2022.58,0.27],[2022.603,0.232],[2022.625,0.258],[2022.647,0.185],[2022.67,0.168],[2022.692,0.202],[2022.715,0.163],[2022.737,0.206],[2022.76,0.228],[2022.78,0.25],[2022.80,0.237],[2022.826,0.215],[2022.84,0.267],[2022.858,0.301],[2022.87,0.271],[2022.885,0.305],[2022.90,0.267],[2022.92,0.344],[2022.94,0.353],[2022.952,0.387],[2022.965,0.374],[2022.983,0.404],[2022.997,0.421],[2023.01,0.357],[2023.028,0.267],[2023.037,0.301],[2023.055,0.292],[2023.073,0.301],[2023.09,0.288],[2023.108,0.31],[2023.126,0.292],[2023.144,0.185],[2023.162,0.172],[2023.18,0.22],[2023.198,0.19],[2023.216,0.142],[2023.234,0.228],[2023.252,0.258],[2023.27,0.267],[2023.288,0.297],[2023.305,0.314],[2023.323,0.297],[2023.34,0.37],[2023.355,0.314],[2023.368,0.331],[2023.386,0.31],[2023.404,0.323],[2023.42,0.344],[2023.44,0.366],[2023.458,0.383],[2023.476,0.31],[2023.494,0.327],[2023.51,0.353],[2023.53,0.249],[2023.547,0.271],[2023.565,0.267],[2023.583,0.301],[2023.60,0.267],[2023.62,0.206],[2023.637,0.215],[2023.655,0.193],[2023.673,0.228],[2023.69,0.211],[2023.708,0.237],[2023.726,0.224],[2023.744,0.275],[2023.762,0.297],[2023.78,0.254],[2023.798,0.185],[2023.816,0.159],[2023.834,0.198],[2023.852,0.181],[2023.87,0.172],[2023.888,0.193],[2023.905,0.181],[2023.923,0.224],[2023.94,0.215],[2023.96,0.232],[2023.977,0.245],[2023.995,0.237],[2024.013,0.258],[2024.03,0.254],[2024.05,0.292],[2024.067,0.267],[2024.085,0.237],[2024.10,0.318],[2024.12,0.297],[2024.138,0.314],[2024.156,0.292],[2024.174,0.267],[2024.19,0.249],[2024.21,0.198],[2024.228,0.181],[2024.246,0.19],[2024.264,0.172],[2024.28,0.138],[2024.30,0.116],[2024.317,0.155],[2024.335,0.103],[2024.353,0.138],[2024.37,0.159],[2024.39,0.129],[2024.407,0.155],[2024.425,0.142],[2024.443,0.159],[2024.46,0.155],[2024.478,0.18],[2024.496,0.211],[2024.514,0.198],[2024.532,0.224],[2024.55,0.202],[2024.568,0.168],[2024.586,0.138],[2024.604,0.155],[2024.622,0.129],[2024.64,0.159],[2024.658,0.168],[2024.675,0.142],[2024.693,0.193],[2024.71,0.224],[2024.73,0.267],[2024.747,0.292],[2024.765,0.292],[2024.783,0.241],[2024.80,0.215],[2024.82,0.181],[2024.837,0.194],[2024.855,0.159],[2024.873,0.189],[2024.89,0.155],[2024.908,0.181],[2024.926,0.159],[2024.944,0.172],[2024.962,0.193],[2024.98,0.18],[2024.998,0.22],[2025.016,0.198],[2025.034,0.232],[2025.05,0.249],[2025.07,0.224],[2025.087,0.193],[2025.105,0.202],[2025.123,0.159],[2025.14,0.116],[2025.16,0.082],[2025.177,0.116],[2025.195,0.086],[2025.213,0.056],[2025.23,0.099],[2025.248,0.142],[2025.266,0.224],[2025.284,0.267],[2025.30,0.31],[2025.32,0.292],[2025.333,0.31],[2025.347,0.305],[2025.365,0.267],[2025.378,0.292],[2025.39,0.327],[2025.41,0.361],[2025.428,0.387],[2025.446,0.43],[2025.463,0.447],[2025.47,0.387],[2025.48,0.327],[2025.50,0.181],[2025.517,0.172],[2025.535,0.138],[2025.553,0.172],[2025.57,0.112],[2025.59,0.146],[2025.607,0.15],[2025.625,0.112],[2025.643,0.125],[2025.66,0.138],[2025.678,0.181],[2025.696,0.211],[2025.714,0.224],[2025.732,0.228],[2025.75,0.258],[2025.768,0.228],[2025.786,0.198],[2025.804,0.258],[2025.822,0.206],[2025.84,0.18],[2025.857,0.172],[2025.875,0.138],[2025.893,0.095],[2025.91,0.103],[2025.93,0.112],[2025.947,0.069],[2025.965,0.116],[2025.983,0.103],[2026.0,0.112]
];

let yearTicks = [2005, 2010, 2015, 2020, 2025];
let lambdaTicks = [0.0, 0.2, 0.4, 0.6, 0.8];

let font = 'DejaVu Sans, Arial, sans-serif';

let trace1 = {
    x: pattonPts.map(p => p[0]),
    y: pattonPts.map(p => p[1]),
    type: 'scatter',
    mode: 'lines',
    line: { color: 'rgb(221,88,44)', width: 1.6 },
    name: 'Patton'
};

let trace2 = {
    x: gasPts.map(p => p[0]),
    y: gasPts.map(p => p[1]),
    type: 'scatter',
    mode: 'lines',
    line: { color: 'rgb(24,93,166)', width: 1.6 },
    name: 'GAS'
};

let axisStyle = {
    showgrid: false,
    zeroline: false,
    showline: true,
    linecolor: 'black',
    linewidth: 2,
    mirror: true,
    ticks: 'outside',
    ticklen: 10,
    tickwidth: 2,
    tickcolor: 'black',
    tickfont: { family: font, size: 26, color: 'black' }
};

let layout = {
    width: 1728,
    height: 883,
    margin: { l: 134, r: 30, t: 71, b: 113 },
    paper_bgcolor: 'white',
    plot_bgcolor: 'white',
    font: { family: font, color: 'black' },
    title: {
        text: 'Time-varying lower tail dependence, JPM-XOM',
        font: { family: font, size: 32, color: 'black' },
        xref: 'paper', x: 0.5, xanchor: 'center',
        yref: 'container', y: 0.949, yanchor: 'middle'
    },
    xaxis: Object.assign({}, axisStyle, {
        range: [2005, 2026.0],
        tickvals: yearTicks,
        ticktext: yearTicks.map(String),
        title: { text: 'year', font: { family: font, size: 26, color: 'black' }, standoff: 10 }
    }),
    yaxis: Object.assign({}, axisStyle, {
        range: [0, 0.903],
        tickvals: lambdaTicks,
        ticktext: lambdaTicks.map(v => v.toFixed(1))
    }),
    // y label as an annotation so it can sit where matplotlib put it
    annotations: [{
        text: '<i>λ</i><sub><i>L,t</i></sub>',
        xref: 'paper', x: -0.057, xanchor: 'center',
        yref: 'paper', y: 0.475, yanchor: 'middle',
        textangle: -90,
        showarrow: false,
        font: { family: font, size: 26, color: 'black' }
    }],
    showlegend: true,
    legend: {
        x: 0.99, xanchor: 'right',
        y: 0.985, yanchor: 'top',
        itemwidth: 60,
        bgcolor: 'rgba(255,255,255,0)',
        borderwidth: 0,
        font: { family: font, size: 26, color: 'black' }
    }
};

let graf = document.getElementById('graf');
Plotly.newPlot(graf, [trace1, trace2], layout, { displayModeBar: false, staticPlot: true });
</script>
</body>
</html>
